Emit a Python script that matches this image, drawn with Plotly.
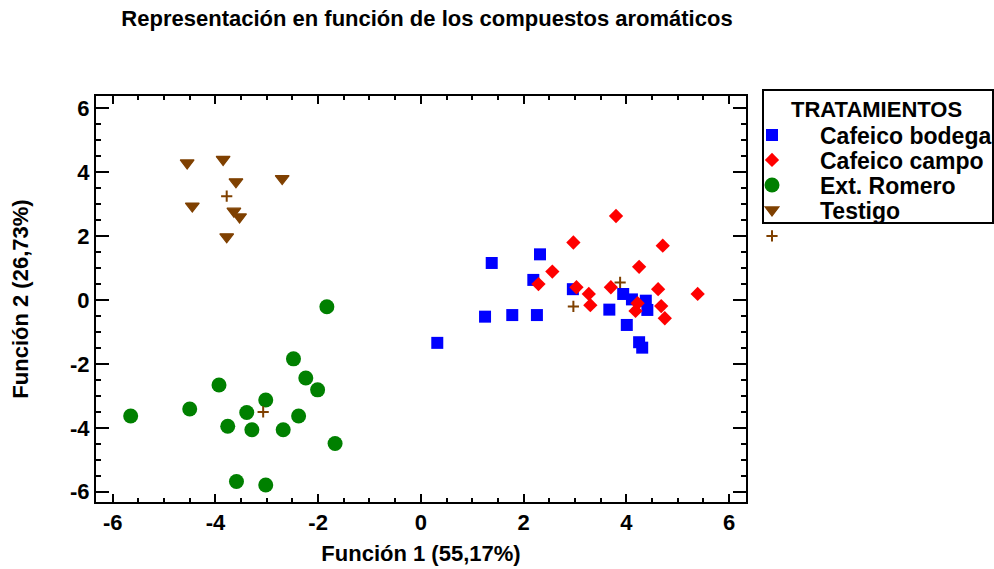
import plotly.graph_objects as go

# Puntuaciones discriminantes por tratamiento (Función 1, Función 2)
grupos = ["Cafeico bodega", "Cafeico campo", "Ext. Romero", "Testigo"]

bodega_f1 = [1.38, 2.32, 2.19, 2.96, 1.25, 1.78, 2.26, 3.67, 3.94, 4.11, 4.38, 4.41, 4.01, 4.25, 4.31, 0.32]
bodega_f2 = [1.16, 1.43, 0.63, 0.34, -0.52, -0.47, -0.47, -0.30, 0.19, 0.02, -0.02, -0.31, -0.78, -1.32, -1.49, -1.34]

campo_f1 = [2.97, 4.71, 2.56, 4.25, 2.29, 3.03, 3.27, 3.30, 3.70, 4.62, 5.39, 4.22, 4.18, 4.68, 4.75, 3.80]
campo_f2 = [1.80, 1.70, 0.89, 1.04, 0.50, 0.40, 0.19, -0.16, 0.40, 0.34, 0.19, -0.10, -0.34, -0.19, -0.57, 2.63]

romero_f1 = [-1.83, -2.48, -2.24, -2.01, -3.93, -4.50, -5.65, -3.02, -3.39, -3.76, -3.29, -2.68, -2.38, -1.67, -3.59, -3.02]
romero_f2 = [-0.21, -1.84, -2.44, -2.81, -2.66, -3.41, -3.63, -3.13, -3.52, -3.95, -4.06, -4.06, -3.63, -4.49, -5.68, -5.79]

testigo_f1 = [-4.55, -3.85, -3.60, -2.70, -4.45, -3.64, -3.53, -3.78]
testigo_f2 = [4.29, 4.40, 3.70, 3.80, 2.94, 2.78, 2.60, 1.98]

centroide_f1 = [2.97, 3.88, -3.07, -3.78]
centroide_f2 = [-0.20, 0.55, -3.50, 3.25]

ticks = [-6, -4, -2, 0, 2, 4, 6]

W, H = 994, 569
ML, MT, PW, PH = 96, 96, 650, 406
FONT = "Liberation Sans"
MARRON = "#7f4000"


def px_x(p):
    return (p - ML) / PW


def px_y(p):
    return (MT + PH - p) / PH


series = [
    (bodega_f1, bodega_f2, grupos[0], "square", 12, 0, "#0000ff", "legend"),
    (campo_f1, campo_f2, grupos[1], "diamond", 11, 0, "#ff0000", "legend2"),
    (romero_f1, romero_f2, grupos[2], "circle", 15, 0, "#008000", "legend3"),
    (testigo_f1, testigo_f2, grupos[3], "triangle-down", 12, 1.2, MARRON, "legend4"),
]

fig = go.Figure()
for fx, fy, nombre, simbolo, tam, borde, color, ley in series:
    fig.add_trace(go.Scatter(
        x=fx, y=fy, mode="markers", name=nombre, legend=ley, showlegend=True,
        marker=dict(symbol=simbolo, size=tam, color=color,
                    line=dict(width=borde, color=color)),
    ))

fig.add_trace(go.Scatter(
    x=centroide_f1, y=centroide_f2, mode="markers", name=" ", legend="legend5",
    showlegend=True,
    marker=dict(symbol="cross-thin", size=8, color=MARRON, line=dict(width=2, color=MARRON)),
))


def leyenda(centro_y):
    return dict(
        xref="container", yref="container",
        x=724 / W, y=1 - centro_y / H, xanchor="left", yanchor="middle",
        bgcolor="rgba(0,0,0,0)", borderwidth=0, itemwidth=86,
        font=dict(family=FONT, size=23, color="black", weight="bold"),
    )


eje = dict(
    showgrid=False, zeroline=False, showline=True, linewidth=2, linecolor="black",
    mirror="ticks", ticks="inside", tickwidth=2, tickcolor="black",
    tickvals=ticks, ticktext=[str(t) for t in ticks],
    tickfont=dict(family=FONT, size=22, color="black", weight="bold"),
)

fig.update_layout(
    width=W, height=H, showlegend=True,
    margin=dict(l=ML, r=W - ML - PW, t=MT, b=H - MT - PH, autoexpand=False),
    paper_bgcolor="white", plot_bgcolor="white",
    title=dict(
        text="Representación en función de los compuestos aromáticos",
        xref="container", yref="container", x=427 / W, y=1 - 18 / H,
        xanchor="center", yanchor="middle",
        font=dict(family=FONT, size=22, color="black", weight="bold"),
    ),
    xaxis=dict(
        eje, range=[-6.325, 6.331], ticklen=8,
        minor=dict(dtick=0.5, ticks="inside", ticklen=4, tickwidth=2, tickcolor="black"),
        title=dict(text="Función 1 (55,17%)", standoff=11,
                   font=dict(family=FONT, size=22, color="black", weight="bold")),
    ),
    yaxis=dict(
        eje, range=[-6.32, 6.385], ticklen=13,
        minor=dict(dtick=0.5, ticks="inside", ticklen=5, tickwidth=2, tickcolor="black"),
        title=dict(text="Función 2 (26,73%)", standoff=35,
                   font=dict(family=FONT, size=22, color="black", weight="bold")),
    ),
    legend=leyenda(135),
    legend2=leyenda(160),
    legend3=leyenda(185),
    legend4=leyenda(210),
    legend5=leyenda(236),
    shapes=[dict(
        type="rect", xref="paper", yref="paper",
        x0=px_x(763), x1=px_x(993), y0=px_y(223), y1=px_y(90),
        line=dict(color="black", width=2), fillcolor="rgba(0,0,0,0)",
    )],
    annotations=[dict(
        text="TRATAMIENTOS", xref="paper", yref="paper",
        x=px_x(876), y=px_y(109), xanchor="center", yanchor="middle", showarrow=False,
        font=dict(family=FONT, size=22, color="black", weight="bold"),
    )],
)

fig.write_html("out.html")
